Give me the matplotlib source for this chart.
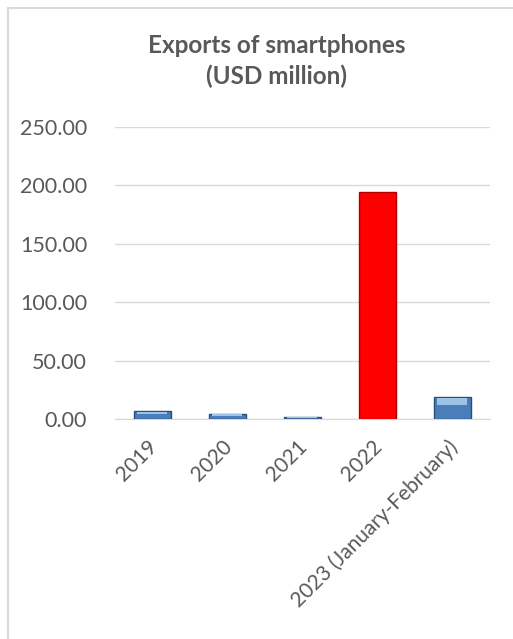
import matplotlib
matplotlib.use("Agg")
import matplotlib.pyplot as plt
import matplotlib.transforms as mtransforms
from matplotlib.patches import Rectangle

# data
categories = ["2019", "2020", "2021", "2022", "2023 (January-February)"]
values = [6.8, 4.3, 1.5, 194.0, 19.1]
bar_colors = ["#4A7EBB", "#4A7EBB", "#4A7EBB", "#FF0000", "#4A7EBB"]
edge_colors = ["#2C4D75", "#2C4D75", "#2C4D75", "#B00000", "#2C4D75"]
yticks = [0, 50, 100, 150, 200, 250]

plt.rcParams["font.family"] = ["Lato", "DejaVu Sans"]
text_color = "#595959"

fig = plt.figure(figsize=(5.13, 6.39), dpi=100)

# chart frame (light gray border like the Excel chart area)
fig.patches.append(Rectangle((8 / 513, -0.01), 1.0, 1 - 8 / 639 + 0.01,
                             transform=fig.transFigure, fill=False,
                             edgecolor="#D9D9D9", linewidth=1.5))

ax = fig.add_axes([0.224, 0.3443, 0.731, 0.4574])
x = range(len(categories))
ax.bar(x, values, width=0.5, color=bar_colors, edgecolor=edge_colors,
       linewidth=1.0, zorder=3)
# lighter top highlight on the blue bars to mimic the bevel
for i, v in enumerate(values):
    if bar_colors[i] != "#FF0000":
        ax.bar(i, v * 0.3, bottom=v * 0.62, width=0.4, color="#9DC3E6",
               linewidth=0, zorder=4)

ax.set_xlim(-0.5, len(categories) - 0.5)
ax.set_ylim(0, 250)
ax.set_yticks(yticks)
ax.set_yticklabels([f"{t:.2f}" for t in yticks], fontsize=15.5, color=text_color)
ax.set_xticks(list(x))
ax.set_xticklabels([])

# rotated category labels, anchored top-right just left of each tick
trans = mtransforms.blended_transform_factory(ax.transData, ax.transAxes)
trans = trans + mtransforms.ScaledTranslation(-5 / 100, -17 / 100, fig.dpi_scale_trans)
for i, cat in enumerate(categories):
    ax.text(i, 0, cat, transform=trans, rotation=45, ha="right", va="top",
            rotation_mode="anchor", fontsize=15, color=text_color)

ax.grid(axis="y", color="#D9D9D9", linewidth=1.0, zorder=0)
for s in ["top", "right", "left"]:
    ax.spines[s].set_visible(False)
ax.spines["bottom"].set_color("#D9D9D9")
ax.tick_params(axis="y", length=0, pad=20)
ax.tick_params(axis="x", length=0)

fig.text(277 / 513, 1 - 61 / 639, "Exports of smartphones\n(USD million)",
         ha="center", va="center", fontsize=17.5, fontweight="bold",
         color=text_color, linespacing=1.4)

fig.savefig("out.png", dpi=100)
